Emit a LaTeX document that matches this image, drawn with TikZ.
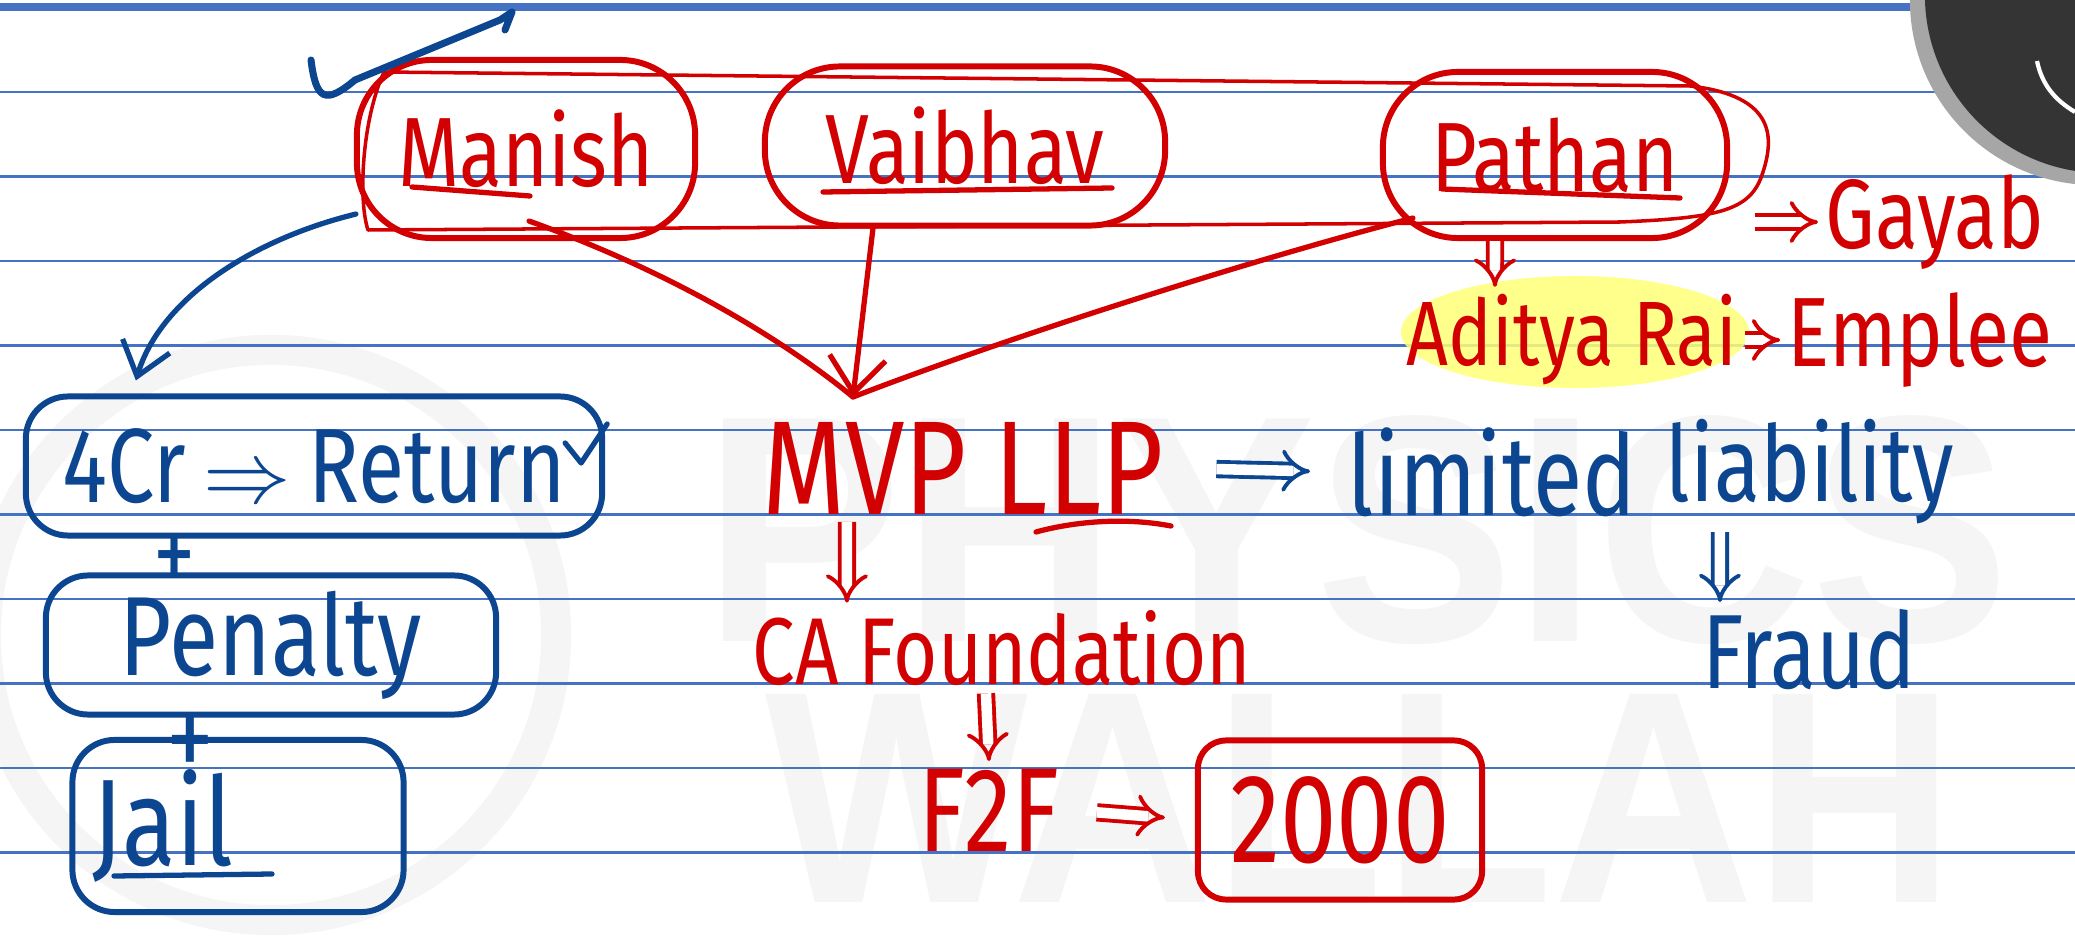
\documentclass[tikz,border=0pt]{standalone}
\usepackage{fontspec}
\setmainfont{Fira Sans}[FakeStretch=0.8]
\newfontfamily\markfont{Liberation Sans}[FakeStretch=0.92]
\usepackage{tikz}
\usetikzlibrary{shapes.geometric, arrows.meta, calc}
\usepackage{xcolor}
\definecolor{inkred}{RGB}{210,0,0}
\definecolor{inkblue}{RGB}{12,70,145}
\definecolor{ruleblue}{RGB}{70,114,196}
\definecolor{hilite}{RGB}{255,255,120}
\definecolor{logodark}{RGB}{52,52,52}

\tikzset{
  redpen/.style={draw=inkred, line width=1.5pt, line cap=round, line join=round},
  bluepen/.style={draw=inkblue, line width=1.5pt, line cap=round, line join=round},
  hand/.style={inner sep=2pt, font=\fontsize{#1}{#1}\selectfont},
  namering/.style={rectangle, rounded corners=0.75cm, redpen, line width=1.7pt, text=inkred, hand=28},
  bluebox/.style={rectangle, rounded corners=12pt, bluepen, line width=1.7pt, text=inkblue},
  redbox/.style={rectangle, rounded corners=8pt, redpen, line width=1.7pt, text=inkred},
  redimp/.style={draw=inkred, double=white, double distance=3pt, line width=1.1pt, -{Implies}},
  blueimp/.style={draw=inkblue, double=white, double distance=3pt, line width=1.1pt, -{Implies}}
}

\begin{document}
\begin{tikzpicture}[x=0.01cm, y=-0.01cm]
        % Page
        \path[use as bounding box] (0,0) rectangle (2075,937);
        \clip (0,0) rectangle (2075,937);
        \fill[white] (0,0) rectangle (2075,937);

        % Watermark
        \draw[black!4, line width=0.3cm] (271,635) circle (2.85cm);
        \node[text=black!4, inner sep=0pt, font=\markfont\bfseries\fontsize{92}{92}\selectfont] (wmtop) at (1357,530) {PHYSICS};
        \node[text=black!4, inner sep=0pt, font=\markfont\bfseries\fontsize{86}{86}\selectfont] (wmbottom) at (1360,798) {WALLAH};

        % Ruled lines
        \draw[ruleblue, line width=2.4pt] (0,7) -- (2075,7);
        \foreach \ypos in {92,176.5,261,345.5,430,514.5,599,683.5,768,852.5}
            \draw[ruleblue, line width=0.8pt] (0,\ypos) -- (2075,\ypos);

        % Logo corner
        \fill[gray!70] (2095,0) circle (1.85cm);
        \fill[logodark] (2103,-5) circle (1.78cm);
        \draw[white, line width=1.2pt] (2037,61) .. controls (2042,85) and (2055,100) .. (2075,112);

        % Highlight
        \fill[hilite, opacity=0.85] (1575,332) ellipse (1.74cm and 0.56cm);

        % Names
        \node[namering, minimum width=3.38cm, minimum height=1.78cm] (manish) at (526,149) {Manish};
        \node[namering, minimum width=4.0cm, minimum height=1.59cm] (vaibhav) at (965,146) {Vaibhav};
        \node[namering, minimum width=3.44cm, minimum height=1.66cm] (pathan) at (1555,155) {Pathan};
        \draw[redpen] (412,187) -- (530,196);
        \draw[redpen] (823,192) -- (1112,188);
        \draw[redpen] (1442,189) -- (1680,198);
        \draw[redpen, line width=1pt] (384,72) -- (1690,86) .. controls (1778,96) and (1774,140) .. (1762,175)
            .. controls (1750,210) and (1720,218) .. (1620,222) -- (368,230) .. controls (358,200) and (362,120) .. cycle;

        % Pathan side
        \node[text=inkred, hand=28] (gayab) at (1935,222) {Gayab};
        \draw[redimp, shorten <=0.25cm] (pathan.east |- gayab.west) -- (gayab.west);
        \node[text=inkred, hand=26] (aditya) at (1572,340) {Aditya Rai};
        \node[text=inkred, hand=28] (emplee) at (1920,340) {Emplee};
        \draw[redimp] ([xshift=-0.6cm]pathan.south) -- ([xshift=-0.77cm]aditya.north);
        \draw[redimp] (aditya.east) -- (emplee.west);

        % Firm
        \node[text=inkred, hand=38] (mvp) at (963,468) {MVP LLP};
        \draw[redpen] (1036,532) .. controls (1080,520) and (1130,518) .. (1171,526);
        \coordinate (mvptip) at (853,397);
        \draw[redpen] ([shift={(0.03cm,0.2cm)}]manish.south) .. controls (680,275) and (790,345) .. (mvptip);
        \draw[redpen, -{Straight Barb[length=10pt, width=16pt]}] ([xshift=-0.92cm]vaibhav.south) -- (mvptip);
        \draw[redpen] ([shift={(-1.42cm,-0.63cm)}]pathan.center) .. controls (1250,260) and (1000,340) .. (mvptip);

        \node[text=inkblue, hand=32] (limited) at (1492,472) {limited};
        \node[text=inkblue, hand=30] (liability) at (1810,472) {liability};
        \draw[blueimp, shorten <=0.45cm, shorten >=0.3cm] (mvp.east) -- (limited.west);
        \node[text=inkblue, hand=30] (fraud) at (1809,650) {Fraud};
        \draw[blueimp] ([xshift=-0.9cm]liability.south) -- ([xshift=-0.89cm]fraud.north);

        \node[text=inkred, hand=27] (ca) at (1002,648) {CA Foundation};
        \draw[redimp] ([xshift=-1.16cm]mvp.south) -- ([xshift=-1.55cm]ca.north);
        \node[text=inkred, hand=34] (f2f) at (989,810) {F2F};
        \draw[redimp] ([xshift=-0.16cm]ca.south) -- (f2f.north);
        \node[redbox, hand=36, minimum width=2.84cm, minimum height=1.59cm] (cost) at (1340,820) {2000};
        \draw[redimp, shorten <=0.3cm, shorten >=0.3cm] (f2f.east) -- (cost.west);

        % Left chain
        \draw[bluepen, line width=2pt] (311,60) .. controls (316,100) and (325,105) .. (355,80) -- (500,20) -- (512,12) -- (505,30);
        \node[bluebox, hand=30, minimum width=5.76cm, minimum height=1.39cm] (ret) at (314,466) {4Cr\,$\Rightarrow$\,Return};
        \draw[bluepen] ($(ret.east)+(-40,-23)$) -- ($(ret.east)+(-24,-3)$) -- ($(ret.east)+(2,-42)$);
        \draw[bluepen, -{Straight Barb[length=9pt, width=14pt]}] ([shift={(-1.7cm,-0.65cm)}]manish.center) .. controls (250,240) and (160,300) .. ($(ret.north west)+(113,-13)$);
        \node[text=inkblue, hand=30] (plus1) at (175,562) {+};
        \node[bluebox, hand=32, minimum width=4.5cm, minimum height=1.39cm] (penalty) at (271,645) {Penalty};
        \node[text=inkblue, hand=34] (plus2) at (190,748) {+};
        \node[bluebox, hand=35, minimum width=3.31cm, minimum height=1.72cm, text width=2.9cm, align=left] (jail) at (238,826) {Jail};
        \draw[bluepen] (114,876) -- (272,874);

    \end{tikzpicture}
\end{document}
